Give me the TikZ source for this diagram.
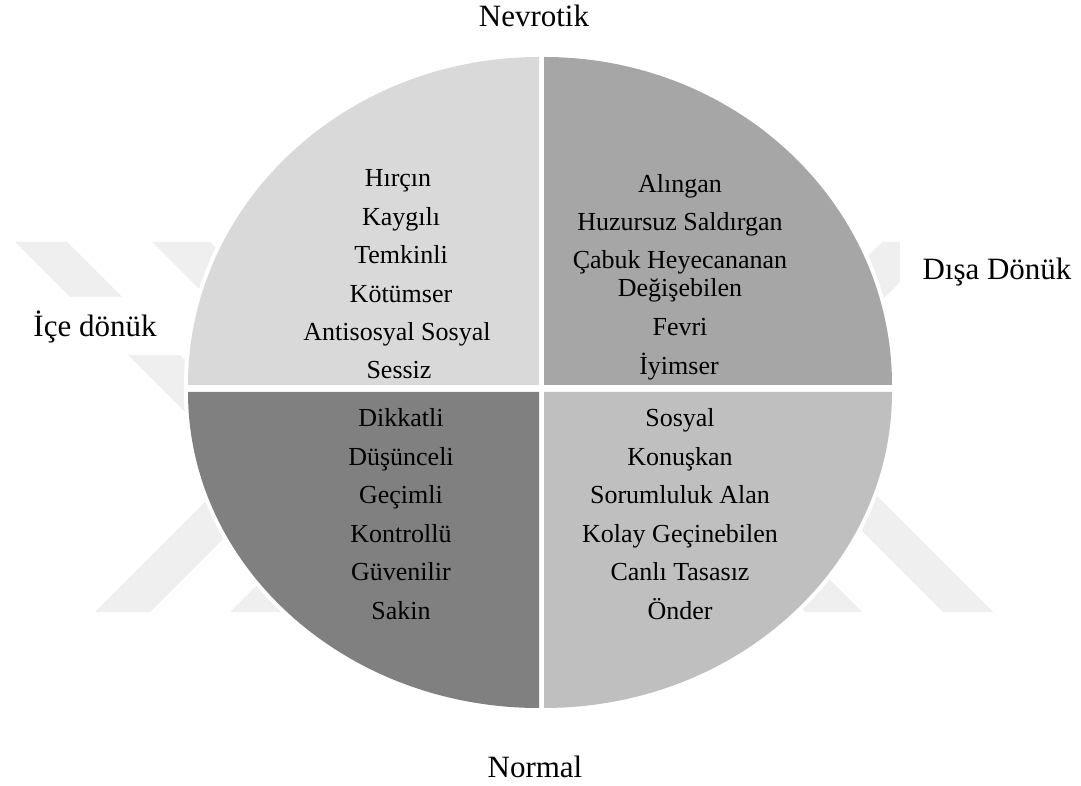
\documentclass[tikz,border=0pt]{standalone}
\usepackage{fontspec}
\setmainfont{Liberation Serif}
\definecolor{wm}{RGB}{239,239,239}
\definecolor{qtl}{RGB}{217,217,217}
\definecolor{qtr}{RGB}{166,166,166}
\definecolor{qbl}{RGB}{128,128,128}
\definecolor{qbr}{RGB}{191,191,191}
\tikzset{
  inner/.style={font=\fontsize{26}{30}\selectfont, anchor=base, inner sep=0pt},
  outer/.style={font=\fontsize{31}{36}\selectfont, anchor=base, inner sep=0pt},
  band/.style={fill=wm},
  rim/.style={draw=white, fill=white, line width=8pt},
}
\begin{document}
\begin{tikzpicture}[x=1pt,y=1pt]
\useasboundingbox (0,0) rectangle (1081,785);
\fill[white] (0,0) rectangle (1081,785);
% faint watermark
\begin{scope}
\clip (0,173) rectangle (1081,543);
\fill[band] (15,543) -- (67,543) -- (267,343) -- (215,343) -- cycle;
\fill[band] (152,543) -- (210,543) -- (410,343) -- (352,343) -- cycle;
\fill[band] (95,173) -- (150,173) -- (350,373) -- (295,373) -- cycle;
\fill[band] (230,173) -- (287,173) -- (487,373) -- (430,373) -- cycle;
\fill[band] (882,543) -- (940,543) -- (740,343) -- (682,343) -- cycle;
\fill[band] (943,173) -- (993,173) -- (793,373) -- (743,373) -- cycle;
\fill[band] (805,173) -- (862,173) -- (662,373) -- (605,373) -- cycle;
\end{scope}
% white label boxes
\fill[white] (0,430) rectangle (183,488);
\fill[white] (900,498) rectangle (1081,545);
% pie quadrants: white rim
\path[rim] (539,400) -- (188,400) arc[start angle=180, end angle=90, x radius=351, y radius=328] -- cycle;
\path[rim] (544,400) -- (544,728) arc[start angle=90, end angle=0, x radius=348, y radius=328] -- cycle;
\path[rim] (539,393) -- (188,393) arc[start angle=180, end angle=270, x radius=351, y radius=316] -- cycle;
\path[rim] (544,393) -- (892,393) arc[start angle=0, end angle=-90, x radius=348, y radius=316] -- cycle;
% pie quadrants
\fill[qtl] (539,400) -- (188,400) arc[start angle=180, end angle=90, x radius=351, y radius=328] -- cycle;
\fill[qtr] (544,400) -- (544,728) arc[start angle=90, end angle=0, x radius=348, y radius=328] -- cycle;
\fill[qbl] (539,393) -- (188,393) arc[start angle=180, end angle=270, x radius=351, y radius=316] -- cycle;
\fill[qbr] (544,393) -- (892,393) arc[start angle=0, end angle=-90, x radius=348, y radius=316] -- cycle;
% outer labels
\node[outer] (nev) at (534,758) {Nevrotik};
\node[outer] (nor) at (535,8) {Normal};
\node[outer] (ice) at (95,448) {İçe dönük};
\node[outer] (dis) at (997,505) {Dışa Dönük};
% top-left
\node[inner] (tl1) at (398,598) {Hırçın};
\node[inner] (tl2) at (401,559.6) {Kaygılı};
\node[inner] (tl3) at (401,521.2) {Temkinli};
\node[inner] (tl4) at (401,482.8) {Kötümser};
\node[inner] (tl5) at (397,444.4) {Antisosyal Sosyal};
\node[inner] (tl6) at (399,406) {Sessiz};
% top-right
\node[inner] (tr1) at (680,592) {Alıngan};
\node[inner] (tr2) at (680,554) {Huzursuz Saldırgan};
\node[inner] (tr3) at (680,516) {Çabuk Heyecananan};
\node[inner] (tr3b) at (680,488) {Değişebilen};
\node[inner] (tr4) at (680,449) {Fevri};
\node[inner] (tr5) at (679,410) {İyimser};
% bottom-left
\node[inner] (bl1) at (401,358) {Dikkatli};
\node[inner] (bl2) at (401,319.6) {Düşünceli};
\node[inner] (bl3) at (401,281.2) {Geçimli};
\node[inner] (bl4) at (401,242.8) {Kontrollü};
\node[inner] (bl5) at (401,204.4) {Güvenilir};
\node[inner] (bl6) at (401,166) {Sakin};
% bottom-right
\node[inner] (br1) at (680,358) {Sosyal};
\node[inner] (br2) at (680,319.6) {Konuşkan};
\node[inner] (br3) at (680,281.2) {Sorumluluk Alan};
\node[inner] (br4) at (680,242.8) {Kolay Geçinebilen};
\node[inner] (br5) at (680,204.4) {Canlı Tasasız};
\node[inner] (br6) at (680,166) {Önder};
\end{tikzpicture}
\end{document}
